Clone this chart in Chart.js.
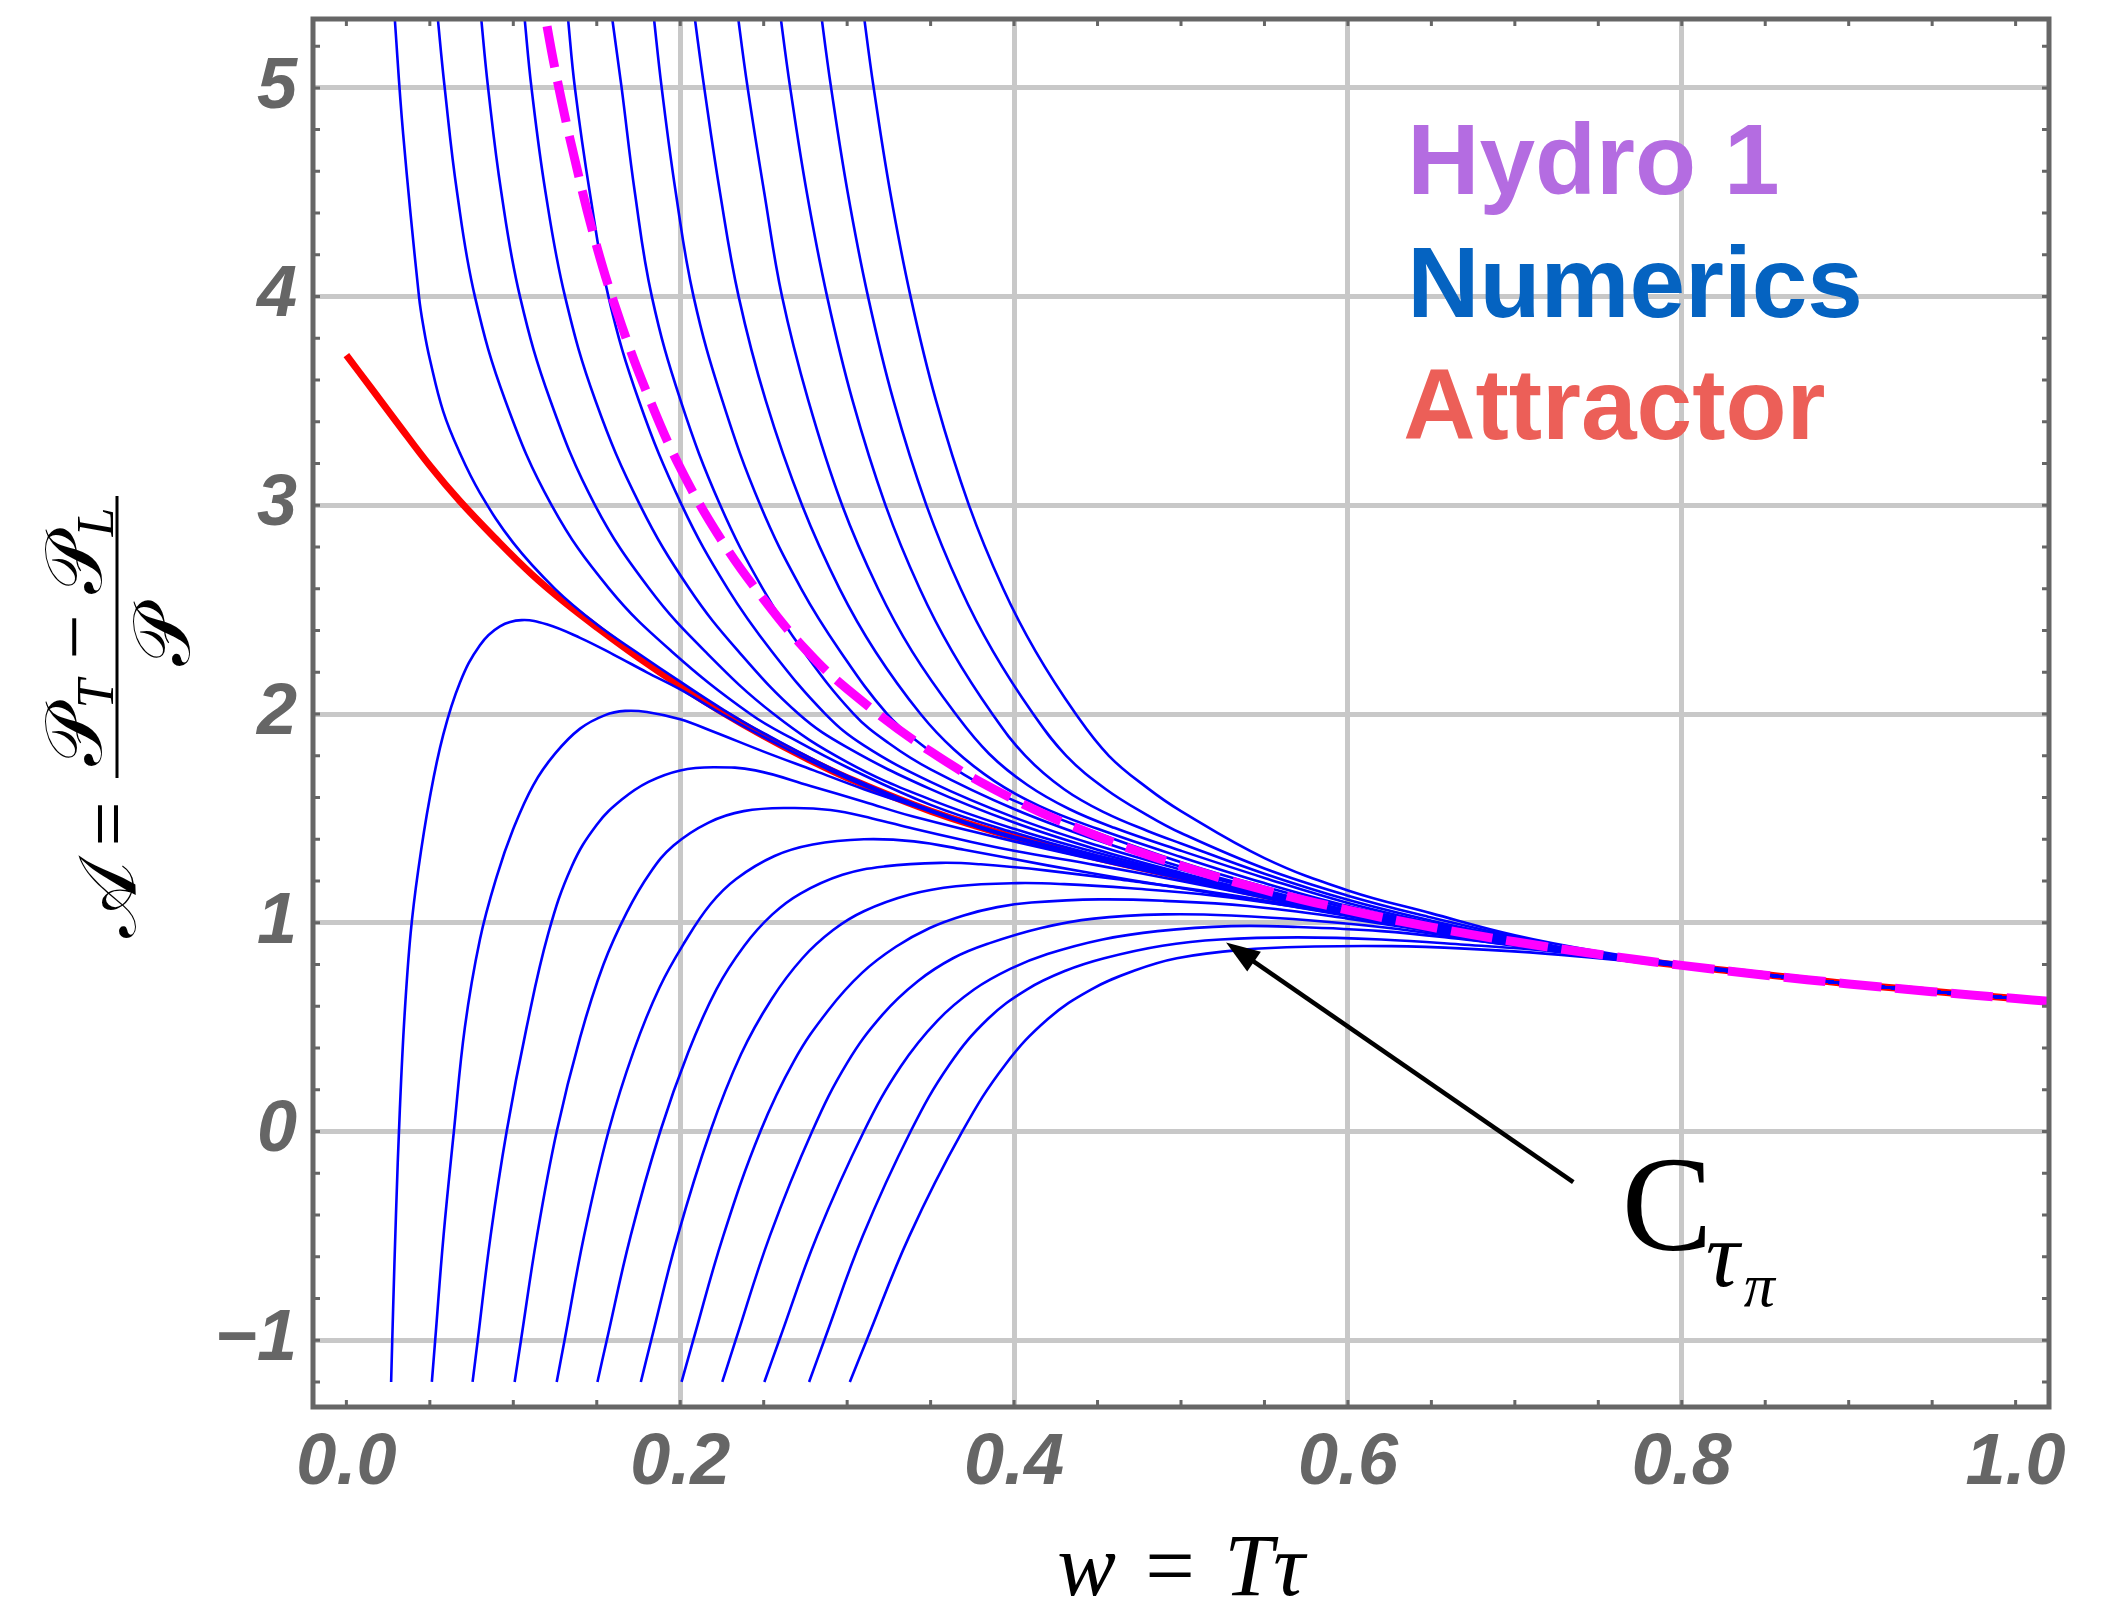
<!DOCTYPE html>
<html>
<head>
<meta charset="utf-8">
<title>Attractor</title>
<script src="https://cdn.jsdelivr.net/npm/chart.js@4.4.1/dist/chart.umd.min.js"></script>
<style>
  html, body { margin: 0; padding: 0; background: #fff; }
  canvas { display: block; }
</style>
</head>
<body>
<canvas id="chart" width="2126" height="1611"></canvas>
<script>
/* Pressure anisotropy A(w): numerical MIS solutions collapsing onto the
   attractor, with first-order hydro for comparison. Chart.js scatter lines. */

// axes
const wTicks = [0.0, 0.2, 0.4, 0.6, 0.8, 1.0];
const aTicks = [-1, 0, 1, 2, 3, 4, 5];
const wGridAt = [0.2, 0.4, 0.6, 0.8];

// attractor (red), [w, A]
const attractor = [
  [0.0, 3.72], [0.015, 3.56], [0.03, 3.40], [0.05, 3.19], [0.068, 3.02], [0.09, 2.835],
  [0.111, 2.67], [0.13, 2.54], [0.151, 2.41], [0.175, 2.27], [0.2, 2.135], [0.225, 2.01],
  [0.25, 1.895], [0.275, 1.79], [0.3, 1.695], [0.35, 1.535], [0.4, 1.41], [0.45, 1.31],
  [0.5, 1.22], [0.55, 1.13], [0.6, 1.045], [0.65, 0.968], [0.7, 0.903], [0.75, 0.846],
  [0.8, 0.795], [0.85, 0.751], [0.9, 0.708], [0.95, 0.672], [1.0, 0.637], [1.02, 0.625],
];

// first-order hydro (magenta, dashed)
const hydro1 = [
  [0.1145, 5.56], [0.119, 5.35], [0.125, 5.09], [0.135, 4.72], [0.15, 4.24], [0.165, 3.86],
  [0.18, 3.54], [0.2, 3.18], [0.225, 2.83], [0.25, 2.55], [0.275, 2.31], [0.3, 2.12],
  [0.35, 1.82], [0.4, 1.59], [0.45, 1.415], [0.5, 1.273], [0.55, 1.157], [0.6, 1.061],
  [0.65, 0.979], [0.7, 0.909], [0.75, 0.849], [0.8, 0.796], [0.85, 0.749], [0.9, 0.707],
  [0.95, 0.670], [1.0, 0.637], [1.02, 0.624],
];

// numerical solutions entering from the top
const up1 = [[0.0268, 5.6], [0.029, 5.33], [0.034, 4.78], [0.0435, 4.0], [0.0465, 3.84], [0.05, 3.7], [0.058, 3.45], [0.068, 3.25], [0.08, 3.06], [0.1, 2.82], [0.125, 2.6], [0.15, 2.43], [0.175, 2.29], [0.2, 2.155], [0.225, 2.025], [0.25, 1.908], [0.3, 1.703], [0.35, 1.54], [0.4, 1.413], [0.5, 1.222], [0.6, 1.046], [0.7, 0.904]];
const up2 = [[0.0517, 5.6], [0.0548, 5.33], [0.0589, 5.0], [0.0663, 4.5], [0.077, 4.0], [0.0953, 3.5], [0.123, 3.0], [0.1575, 2.6], [0.1949, 2.3], [0.242, 2.0], [0.27, 1.87], [0.3, 1.745], [0.35, 1.565], [0.4, 1.432], [0.45, 1.322], [0.5, 1.227], [0.55, 1.135], [0.6, 1.047], [0.65, 0.971], [0.7, 0.905]];
const up3 = [[0.0777, 5.6], [0.0808, 5.33], [0.0849, 5.0], [0.0928, 4.5], [0.104, 4.0], [0.1223, 3.5], [0.149, 3.0], [0.1815, 2.6], [0.2149, 2.3], [0.256, 2.0], [0.3, 1.77], [0.35, 1.59], [0.4, 1.45], [0.45, 1.335], [0.5, 1.232], [0.55, 1.138], [0.6, 1.048], [0.65, 0.972], [0.7, 0.906]];
const up4 = [[0.1037, 5.6], [0.1068, 5.33], [0.1109, 5.0], [0.1193, 4.5], [0.131, 4.0], [0.1493, 3.5], [0.176, 3.0], [0.2055, 2.6], [0.2349, 2.3], [0.271, 2.0], [0.3, 1.84], [0.35, 1.64], [0.4, 1.48], [0.45, 1.35], [0.5, 1.24], [0.55, 1.14], [0.6, 1.05], [0.65, 0.972], [0.7, 0.907]];
const up5 = [[0.1297, 5.6], [0.1328, 5.33], [0.1369, 5.0], [0.1458, 4.5], [0.157, 4.0], [0.1753, 3.5], [0.201, 3.0], [0.2285, 2.6], [0.2549, 2.3], [0.287, 2.0], [0.31, 1.85], [0.35, 1.675], [0.4, 1.505], [0.45, 1.37], [0.5, 1.255], [0.55, 1.15], [0.6, 1.054], [0.65, 0.975], [0.7, 0.908]];
const up6 = [[0.1552, 5.6], [0.1593, 5.33], [0.1649, 5.0], [0.1728, 4.5], [0.183, 4.0], [0.2003, 3.5], [0.224, 3.0], [0.2495, 2.6], [0.2739, 2.3], [0.304, 2.0], [0.325, 1.86], [0.35, 1.735], [0.4, 1.545], [0.45, 1.395], [0.5, 1.268], [0.55, 1.157], [0.6, 1.06], [0.65, 0.979], [0.7, 0.909]];
const up7 = [[0.1807, 5.6], [0.1843, 5.33], [0.1889, 5.0], [0.1973, 4.5], [0.208, 4.0], [0.2253, 3.5], [0.248, 3.0], [0.2725, 2.6], [0.2959, 2.3], [0.324, 2.0], [0.345, 1.85], [0.37, 1.71], [0.4, 1.585], [0.45, 1.43], [0.5, 1.29], [0.55, 1.172], [0.6, 1.07], [0.65, 0.986], [0.7, 0.912]];
const up8 = [[0.2047, 5.6], [0.2088, 5.33], [0.2144, 5.0], [0.2238, 4.5], [0.235, 4.0], [0.2513, 3.5], [0.273, 3.0], [0.2955, 2.6], [0.3169, 2.3], [0.344, 2.0], [0.364, 1.83], [0.388, 1.68], [0.415, 1.56], [0.45, 1.45], [0.5, 1.315], [0.55, 1.19], [0.6, 1.08], [0.65, 0.993], [0.7, 0.916]];
const up9 = [[0.2307, 5.6], [0.2348, 5.33], [0.2404, 5.0], [0.2503, 4.5], [0.261, 4.0], [0.2768, 3.5], [0.297, 3.0], [0.3185, 2.6], [0.3389, 2.3], [0.365, 2.0], [0.385, 1.81], [0.408, 1.66], [0.433, 1.545], [0.46, 1.455], [0.5, 1.345], [0.55, 1.215], [0.6, 1.095], [0.65, 1.0], [0.7, 0.92]];
const up10 = [[0.2562, 5.6], [0.2603, 5.33], [0.2659, 5.0], [0.2758, 4.5], [0.288, 4.0], [0.3033, 3.5], [0.323, 3.0], [0.3435, 2.6], [0.3629, 2.3], [0.387, 2.0], [0.4068, 1.8], [0.43, 1.64], [0.455, 1.525], [0.48, 1.44], [0.5, 1.38], [0.55, 1.235], [0.6, 1.11], [0.65, 1.01], [0.7, 0.926]];
const up11 = [[0.2807, 5.6], [0.2848, 5.33], [0.2904, 5.0], [0.3003, 4.5], [0.3125, 4.0], [0.3278, 3.5], [0.3475, 3.0], [0.368, 2.6], [0.3874, 2.3], [0.4115, 2.0], [0.4313, 1.8], [0.455, 1.64], [0.48, 1.515], [0.5, 1.43], [0.55, 1.26], [0.6, 1.13], [0.65, 1.025], [0.7, 0.932]];
const up12 = [[0.3062, 5.6], [0.3103, 5.33], [0.3159, 5.0], [0.3258, 4.5], [0.338, 4.0], [0.3533, 3.5], [0.373, 3.0], [0.3935, 2.6], [0.4129, 2.3], [0.437, 2.0], [0.4568, 1.8], [0.48, 1.645], [0.5, 1.535], [0.55, 1.31], [0.6, 1.155], [0.65, 1.045], [0.7, 0.94], [0.75, 0.862], [0.8, 0.803]];

// numerical solutions rising from below
const low1 = [[0.0268, -1.2], [0.028, -0.85], [0.0297, -0.4], [0.032, 0.1], [0.0348, 0.55], [0.0385, 0.95], [0.043, 1.25], [0.05, 1.6], [0.058, 1.9], [0.068, 2.15], [0.08, 2.33], [0.092, 2.42], [0.105, 2.45], [0.12, 2.43], [0.14, 2.365], [0.16, 2.285], [0.18, 2.2], [0.2, 2.118], [0.225, 2.0], [0.25, 1.89], [0.3, 1.692], [0.35, 1.533], [0.4, 1.409], [0.5, 1.219], [0.6, 1.044], [0.7, 0.904]];
const low2 = [[0.0512, -1.2], [0.0532, -1.0], [0.0582, -0.5], [0.0644, 0], [0.071, 0.5], [0.08, 0.92], [0.09, 1.22], [0.1, 1.45], [0.112, 1.66], [0.125, 1.81], [0.14, 1.93], [0.155, 1.995], [0.167, 2.015], [0.18, 2.01], [0.2, 1.975], [0.22, 1.915], [0.25, 1.82], [0.28, 1.73], [0.31, 1.64], [0.34, 1.56], [0.4, 1.405], [0.5, 1.217], [0.6, 1.043], [0.7, 0.903]];
const low3 = [[0.0756, -1.2], [0.0787, -1.0], [0.0864, -0.5], [0.096, 0], [0.108, 0.5], [0.121, 0.95], [0.135, 1.27], [0.15, 1.47], [0.165, 1.59], [0.181, 1.675], [0.2, 1.73], [0.22, 1.745], [0.245, 1.73], [0.278, 1.655], [0.31, 1.58], [0.339, 1.51], [0.4, 1.39], [0.5, 1.212], [0.6, 1.042], [0.7, 0.902]];
const low4 = [[0.1008, -1.2], [0.1046, -1.0], [0.1142, -0.5], [0.126, 0], [0.14, 0.45], [0.154, 0.8], [0.168, 1.05], [0.182, 1.24], [0.196, 1.37], [0.217, 1.48], [0.238, 1.535], [0.266, 1.55], [0.29, 1.54], [0.315, 1.5], [0.34, 1.45], [0.37, 1.395], [0.4, 1.345], [0.45, 1.275], [0.5, 1.2], [0.55, 1.12], [0.6, 1.038], [0.7, 0.9]];
const low5 = [[0.126, -1.2], [0.1307, -1.0], [0.1424, -0.5], [0.157, 0], [0.1723, 0.39], [0.1876, 0.69], [0.2029, 0.91], [0.2182, 1.09], [0.2335, 1.21], [0.2565, 1.32], [0.2794, 1.375], [0.31, 1.4], [0.34, 1.39], [0.37, 1.35], [0.42, 1.275], [0.47, 1.205], [0.52, 1.14], [0.58, 1.06], [0.65, 0.962], [0.7, 0.899]];
const low6 = [[0.1504, -1.2], [0.156, -1.0], [0.1703, -0.5], [0.188, 0], [0.2048, 0.38], [0.2216, 0.68], [0.2384, 0.89], [0.2552, 1.04], [0.272, 1.14], [0.2972, 1.23], [0.3224, 1.27], [0.356, 1.287], [0.38, 1.28], [0.42, 1.25], [0.47, 1.2], [0.52, 1.145], [0.57, 1.08], [0.62, 1.01], [0.7, 0.897]];
const low7 = [[0.1764, -1.2], [0.1826, -1.0], [0.1985, -0.5], [0.218, 0], [0.2364, 0.37], [0.2548, 0.635], [0.2732, 0.83], [0.2916, 0.965], [0.31, 1.055], [0.3376, 1.135], [0.3652, 1.175], [0.402, 1.19], [0.43, 1.185], [0.47, 1.165], [0.52, 1.13], [0.57, 1.075], [0.62, 1.01], [0.7, 0.895]];
const low8 = [[0.2008, -1.2], [0.2078, -1.0], [0.2258, -0.5], [0.248, 0], [0.2683, 0.34], [0.2886, 0.58], [0.3089, 0.76], [0.3292, 0.885], [0.3495, 0.975], [0.3698, 1.035], [0.39, 1.075], [0.4104, 1.097], [0.451, 1.112], [0.49, 1.105], [0.54, 1.08], [0.6, 1.02], [0.65, 0.958], [0.7, 0.893]];
const low9 = [[0.2252, -1.2], [0.2332, -1.0], [0.2537, -0.5], [0.279, 0], [0.3001, 0.33], [0.3212, 0.56], [0.3423, 0.72], [0.3634, 0.83], [0.3845, 0.9], [0.4162, 0.975], [0.4478, 1.02], [0.49, 1.04], [0.53, 1.035], [0.58, 1.01], [0.63, 0.97], [0.7, 0.89]];
const low10 = [[0.2504, -1.2], [0.2593, -1.0], [0.282, -0.5], [0.31, 0], [0.332, 0.31], [0.354, 0.53], [0.376, 0.68], [0.398, 0.78], [0.42, 0.85], [0.453, 0.92], [0.486, 0.96], [0.53, 0.984], [0.57, 0.98], [0.62, 0.96], [0.67, 0.92], [0.72, 0.873], [0.8, 0.793]];
const low11 = [[0.2772, -1.2], [0.2863, -1.0], [0.3094, -0.5], [0.338, 0], [0.3612, 0.32], [0.3844, 0.54], [0.4076, 0.68], [0.4308, 0.77], [0.454, 0.83], [0.4888, 0.89], [0.5236, 0.92], [0.57, 0.93], [0.62, 0.92], [0.67, 0.895], [0.72, 0.865], [0.8, 0.792]];
const low12 = [[0.3016, -1.2], [0.3117, -1.0], [0.3373, -0.5], [0.369, 0], [0.3947, 0.32], [0.4204, 0.54], [0.4461, 0.68], [0.4718, 0.77], [0.4975, 0.83], [0.536, 0.87], [0.58, 0.886], [0.626, 0.888], [0.67, 0.876], [0.72, 0.851], [0.8, 0.792]];

// shared late-time tail, where every solution sits on the attractor
const tail = [[0.75, 0.846], [0.8, 0.795], [0.9, 0.708], [1.0, 0.637], [1.02, 0.625]];

const legendLabels = ['Hydro 1', 'Numerics', 'Attractor'];
const legendColors = ['#b46ce1', '#0563c1', '#ec5f58'];

// arrow pointing at the C_tau_pi curve, [w, A]
const arrowFrom = [0.735, -0.243];
const arrowTo = [0.527, 0.906];
const arrowLabelAt = [0.764, -0.57];
const legendAt = [0.6355, 4.49];

const GRID = '#c8c8c8';
const FRAME = '#666666';
const TICK_TEXT = '#666666';
const SANS = '"Liberation Sans", Arial, Helvetica, sans-serif';
const SERIF = '"Liberation Serif", "DejaVu Serif", "Times New Roman", serif';

const toXY = (pts) => pts.map(([x, y]) => ({ x, y }));
const withTail = (pts) => pts.concat(tail.filter(([w]) => w > pts[pts.length - 1][0]));

const numerics = [up1, up2, up3, up4, up5, up6, up7, up8, up9, up10, up11, up12,
  low1, low2, low3, low4, low5, low6, low7, low8, low9, low10, low11, low12];

const datasets = [
  { label: 'Hydro 1', data: toXY(hydro1), borderColor: '#ff00ff', borderWidth: 9, borderDash: [42, 14], borderCapStyle: 'butt', order: 0 },
  ...numerics.map((c) => ({ label: 'Numerics', data: toXY(withTail(c)), borderColor: '#0000ff', borderWidth: 2.6, order: 1 })),
  { label: 'Attractor', data: toXY(attractor), borderColor: '#ff0000', borderWidth: 7, order: 2 },
];

// draws runs of [text, font, baselineShift] left to right starting at x
function drawRuns(ctx, runs, x, y) {
  let cx = x;
  runs.forEach(([text, font, dy]) => {
    ctx.font = font;
    ctx.fillText(text, cx, y + (dy || 0));
    cx += ctx.measureText(text).width;
  });
}
function runsWidth(ctx, runs) {
  return runs.reduce((s, [text, font]) => { ctx.font = font; return s + ctx.measureText(text).width; }, 0);
}

const overlay = {
  id: 'overlay',
  afterDatasetsDraw(chart) {
    const { ctx, chartArea: a, scales: { x, y } } = chart;
    ctx.save();
    ctx.strokeStyle = FRAME;

    // small inward ticks on all four sides
    ctx.lineWidth = 3;
    const tl = 7;
    ctx.beginPath();
    for (let v = 0; v <= 1.0001; v += 0.05) {
      const px = x.getPixelForValue(v);
      ctx.moveTo(px, a.bottom); ctx.lineTo(px, a.bottom - tl);
      ctx.moveTo(px, a.top); ctx.lineTo(px, a.top + tl);
    }
    for (let v = -1.2; v <= 5.2001; v += 0.2) {
      const py = y.getPixelForValue(v);
      ctx.moveTo(a.left, py); ctx.lineTo(a.left + tl, py);
      ctx.moveTo(a.right, py); ctx.lineTo(a.right - tl, py);
    }
    ctx.stroke();

    // frame
    ctx.lineWidth = 5;
    ctx.strokeRect(a.left, a.top, a.right - a.left, a.bottom - a.top);
    ctx.restore();
  },
  afterDraw(chart) {
    const { ctx, chartArea: a, scales: { x, y } } = chart;
    ctx.save();

    // legend text
    ctx.font = `bold 100px ${SANS}`;
    ctx.textAlign = 'left';
    ctx.textBaseline = 'alphabetic';
    const lx = x.getPixelForValue(legendAt[0]);
    const ly = y.getPixelForValue(legendAt[1]);
    legendLabels.forEach((t, i) => {
      ctx.fillStyle = legendColors[i];
      ctx.fillText(t, lx - (i === 2 ? 4 : 0), ly + i * 122.5);
    });

    // arrow
    const x0 = x.getPixelForValue(arrowFrom[0]), y0 = y.getPixelForValue(arrowFrom[1]);
    const x1 = x.getPixelForValue(arrowTo[0]), y1 = y.getPixelForValue(arrowTo[1]);
    const ang = Math.atan2(y1 - y0, x1 - x0);
    const head = 34, half = 12;
    ctx.strokeStyle = '#000';
    ctx.fillStyle = '#000';
    ctx.lineWidth = 4.5;
    ctx.beginPath();
    ctx.moveTo(x0, y0);
    ctx.lineTo(x1 - Math.cos(ang) * head * 0.8, y1 - Math.sin(ang) * head * 0.8);
    ctx.stroke();
    ctx.beginPath();
    ctx.moveTo(x1, y1);
    ctx.lineTo(x1 - Math.cos(ang) * head + Math.sin(ang) * half, y1 - Math.sin(ang) * head - Math.cos(ang) * half);
    ctx.lineTo(x1 - Math.cos(ang) * head - Math.sin(ang) * half, y1 - Math.sin(ang) * head + Math.cos(ang) * half);
    ctx.closePath();
    ctx.fill();

    // C_{tau_pi}
    const cx = x.getPixelForValue(arrowLabelAt[0]);
    const cy = y.getPixelForValue(arrowLabelAt[1]);
    ctx.fillStyle = '#000';
    ctx.font = `136px ${SERIF}`;
    ctx.fillText('C', cx, cy);
    ctx.font = `italic 94px ${SERIF}`;
    ctx.fillText('τ', cx + 84, cy + 36);
    ctx.font = `italic 62px ${SERIF}`;
    ctx.fillText('π', cx + 122, cy + 56);

    // x title
    ctx.fillStyle = '#000';
    const xt = [['w', `italic 88px ${SERIF}`], ['\u2004=\u2004', `88px ${SERIF}`], ['T', `italic 88px ${SERIF}`], ['τ', `italic 88px ${SERIF}`]];
    const xw = runsWidth(ctx, xt);
    drawRuns(ctx, xt, (a.left + a.right) / 2 - xw / 2, a.bottom + 188);

    // y title, rotated: A = (P_T - P_L) / P
    ctx.save();
    ctx.translate(a.left - 196, (a.top + a.bottom) / 2 + 3);
    ctx.rotate(-Math.PI / 2);
    const big = `80px ${SERIF}`;
    const sub = `italic 52px ${SERIF}`;
    ctx.font = big;
    ctx.fillText('𝒜', -222, 18);
    ctx.textAlign = 'center';
    ctx.fillText('=', -108, 18);
    ctx.textAlign = 'left';
    ctx.fillRect(-62, -1.5, 282, 3);
    const num = [['𝒫', big], ['T', sub, 12], [' \u2212 ', big], ['𝒫', big], ['L', sub, 12]];
    drawRuns(ctx, num, 79 - runsWidth(ctx, num) / 2, -16);
    const den = [['𝒫', big]];
    drawRuns(ctx, den, 79 - runsWidth(ctx, den) / 2, 72);
    ctx.restore();

    ctx.restore();
  },
};

new Chart(document.getElementById('chart'), {
  type: 'scatter',
  data: { datasets },
  options: {
    responsive: false,
    animation: false,
    devicePixelRatio: 1,
    events: [],
    layout: { padding: { top: 19, right: 77, bottom: 0, left: 0 }, autoPadding: false },
    elements: {
      point: { radius: 0 },
      line: { tension: 0.4, capBezierPoints: false, fill: false },
    },
    datasets: { scatter: { showLine: true } },
    plugins: { legend: { display: false }, tooltip: { enabled: false } },
    scales: {
      x: {
        type: 'linear',
        min: -0.02,
        max: 1.02,
        afterBuildTicks: (s) => { s.ticks = wTicks.map((v) => ({ value: v })); },
        afterFit: (s) => { s.height = 204; s.paddingLeft = 0; s.paddingRight = 0; },
        ticks: {
          font: { family: SANS, size: 72, style: 'italic', weight: 'bold' },
          color: TICK_TEXT,
          padding: 14,
          maxRotation: 0,
          autoSkip: false,
          callback: (v) => Number(v).toFixed(1),
        },
        grid: {
          color: (c) => (c.tick && wGridAt.some((g) => Math.abs(c.tick.value - g) < 1e-6) ? GRID : 'rgba(0,0,0,0)'),
          lineWidth: 5,
          drawTicks: false,
        },
        border: { display: false },
      },
      y: {
        type: 'linear',
        min: -1.32,
        max: 5.33,
        afterBuildTicks: (s) => { s.ticks = aTicks.map((v) => ({ value: v })); },
        afterFit: (s) => { s.width = 313; s.paddingTop = 0; s.paddingBottom = 0; },
        ticks: {
          font: { family: SANS, size: 72, style: 'italic', weight: 'bold' },
          color: TICK_TEXT,
          padding: 16,
          autoSkip: false,
          callback: (v) => (v < 0 ? '\u2212' + Math.abs(v) : String(v)),
        },
        grid: { color: GRID, lineWidth: 5, drawTicks: false },
        border: { display: false },
      },
    },
  },
  plugins: [overlay],
});
</script>
</body>
</html>
